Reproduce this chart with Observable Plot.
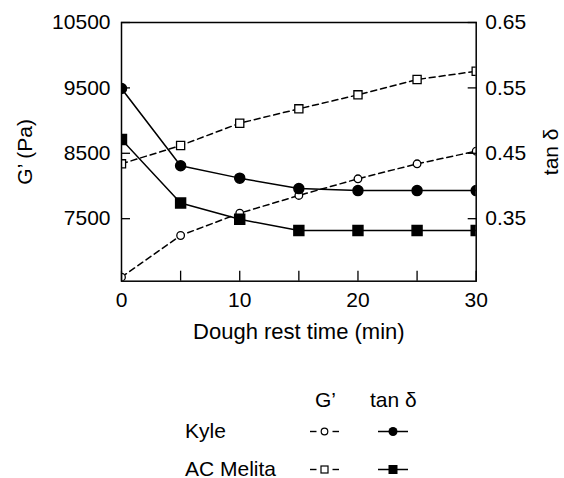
<!DOCTYPE html>
<html><head><meta charset="utf-8">
<script src="https://cdn.jsdelivr.net/npm/d3@7"></script>
<script src="https://cdn.jsdelivr.net/npm/@observablehq/plot@0.6"></script>
<style>
body{margin:0;background:#fff;font-family:"Liberation Sans",Arial,sans-serif;}
#wrap{position:relative;width:564px;height:478px;}
#legend{position:absolute;left:0;top:0;}
</style></head><body><div id="wrap"></div>
<script>
const times = [0, 5, 10, 15, 20, 25, 30];
const kyleG = [6606, 7243, 7584, 7855, 8110, 8339, 8532];
const melitaG = [8339, 8619, 8960, 9180, 9394, 9628, 9755];
const kyleTan = [0.549, 0.431, 0.412, 0.396, 0.393, 0.393, 0.393];
const melitaTan = [0.471, 0.374, 0.349, 0.332, 0.332, 0.332, 0.332];
const gTicks = [7500, 8500, 9500, 10500];
const tanTicks = [0.35, 0.45, 0.55, 0.65];
const xTicks = [0, 5, 10, 15, 20, 25, 30];
const xLabels = [0, 10, 20, 30];

// right axis (tan δ) shares the left scale: tan = G/10000 - 0.4
const tanToG = t => (t + 0.4) * 10000;
const gToTan = g => g / 10000 - 0.4;

const rows = (vals, conv = v => v) => times.map((t, i) => ({t, v: conv(vals[i])}));
const kG = rows(kyleG), mG = rows(melitaG);
const kT = rows(kyleTan, tanToG), mT = rows(melitaTan, tanToG);

const FS = 21;
const W = 564, H = 345;
const lineOpts = {x: "t", y: "v", stroke: "black", strokeWidth: 1.5, clip: "frame"};
const dash = {...lineOpts, strokeDasharray: "6,4"};

const chart = Plot.plot({
  width: W, height: H,
  marginLeft: 121, marginRight: 88.3, marginTop: 22, marginBottom: H - 280.7,
  style: {fontFamily: '"Liberation Sans", Arial, sans-serif', fontSize: FS + "px", background: "white", color: "black"},
  x: {domain: [0, 30]},
  y: {domain: [6544, 10500]},
  marks: [
    Plot.line(kG, dash),
    Plot.line(mG, dash),
    Plot.line(kT, lineOpts),
    Plot.line(mT, lineOpts),
    Plot.dot(kG, {x: "t", y: "v", symbol: "circle", r: 3.8, fill: "white", stroke: "black", strokeWidth: 1.3, clip: "frame"}),
    Plot.dot(mG, {x: "t", y: "v", symbol: "square", r: 4.6, fill: "white", stroke: "black", strokeWidth: 1.3, clip: "frame"}),
    Plot.dot(kT, {x: "t", y: "v", symbol: "circle", r: 5, fill: "black", stroke: "black", clip: "frame"}),
    Plot.dot(mT, {x: "t", y: "v", symbol: "square", r: 5.6, fill: "black", stroke: "black", clip: "frame"}),
    Plot.frame({stroke: "black", strokeWidth: 1.5}),
    Plot.axisX({ticks: xTicks, tickSize: -10, tickFormat: () => "", label: null, strokeWidth: 1.3}),
    Plot.axisX({ticks: xLabels, tickSize: 0, tickPadding: 11, tickFormat: d => String(d), label: null, fontSize: FS}),
    Plot.axisY({ticks: gTicks, anchor: "left", tickSize: -9, tickFormat: () => "", label: null, strokeWidth: 1.3}),
    Plot.axisY({ticks: gTicks, anchor: "left", tickSize: 0, tickPadding: 11, tickFormat: d => String(d), label: null, fontSize: FS}),
    Plot.axisY({ticks: tanTicks.map(tanToG), anchor: "right", tickSize: -9, tickFormat: () => "", label: null, strokeWidth: 1.3}),
    Plot.axisY({ticks: tanTicks.map(tanToG), anchor: "right", tickSize: 0, tickPadding: 9, tickFormat: d => gToTan(d).toFixed(2), label: null, fontSize: FS}),
    Plot.text(["Dough rest time (min)"], {frameAnchor: "bottom", dy: 51, lineAnchor: "middle", fontSize: 22}),
    Plot.text(["G’ (Pa)"], {frameAnchor: "left", dx: -96, rotate: -90, textAnchor: "middle", lineAnchor: "middle", fontSize: FS}),
    Plot.text(["tan δ"], {frameAnchor: "right", dx: 75, rotate: -90, textAnchor: "middle", lineAnchor: "middle", fontSize: FS})
  ]
});
const wrap = document.getElementById("wrap");
wrap.appendChild(chart);

// Legend (below the chart)
const series = ["Kyle", "AC Melita"];
const cols = ["G’", "tan δ"];
const lg = d3.select(wrap).append("svg").attr("id", "legend")
  .attr("width", W).attr("height", 478)
  .style("font-family", '"Liberation Sans", Arial, sans-serif').style("font-size", FS + "px");
const colX = [324.5, 393];
const rowY = [430, 468];
lg.append("text").attr("x", 315).attr("y", 407).text(cols[0]);
lg.append("text").attr("x", 370).attr("y", 407).text(cols[1]);
series.forEach((s, i) => {
  lg.append("text").attr("x", 185).attr("y", rowY[i] + 7.5).text(s);
  const y = rowY[i] + 1.5;
  // G' swatch: dash - open marker - dash
  lg.append("line").attr("x1", colX[0] - 14.5).attr("x2", colX[0] - 8).attr("y1", y).attr("y2", y).attr("stroke", "black").attr("stroke-width", 1.4);
  lg.append("line").attr("x1", colX[0] + 8).attr("x2", colX[0] + 14.5).attr("y1", y).attr("y2", y).attr("stroke", "black").attr("stroke-width", 1.4);
  if (i === 0) lg.append("circle").attr("cx", colX[0]).attr("cy", y).attr("r", 3.3).attr("fill", "white").attr("stroke", "black").attr("stroke-width", 1.2);
  else lg.append("rect").attr("x", colX[0] - 3.5).attr("y", y - 3.5).attr("width", 7).attr("height", 7).attr("fill", "white").attr("stroke", "black").attr("stroke-width", 1.2);
  // tan δ swatch: solid line with filled marker
  lg.append("line").attr("x1", colX[1] - 15).attr("x2", colX[1] + 15).attr("y1", y).attr("y2", y).attr("stroke", "black").attr("stroke-width", 1.5);
  if (i === 0) lg.append("circle").attr("cx", colX[1]).attr("cy", y).attr("r", 4.5).attr("fill", "black");
  else lg.append("rect").attr("x", colX[1] - 4.5).attr("y", y - 4.5).attr("width", 9).attr("height", 9).attr("fill", "black");
});
</script></body></html>
